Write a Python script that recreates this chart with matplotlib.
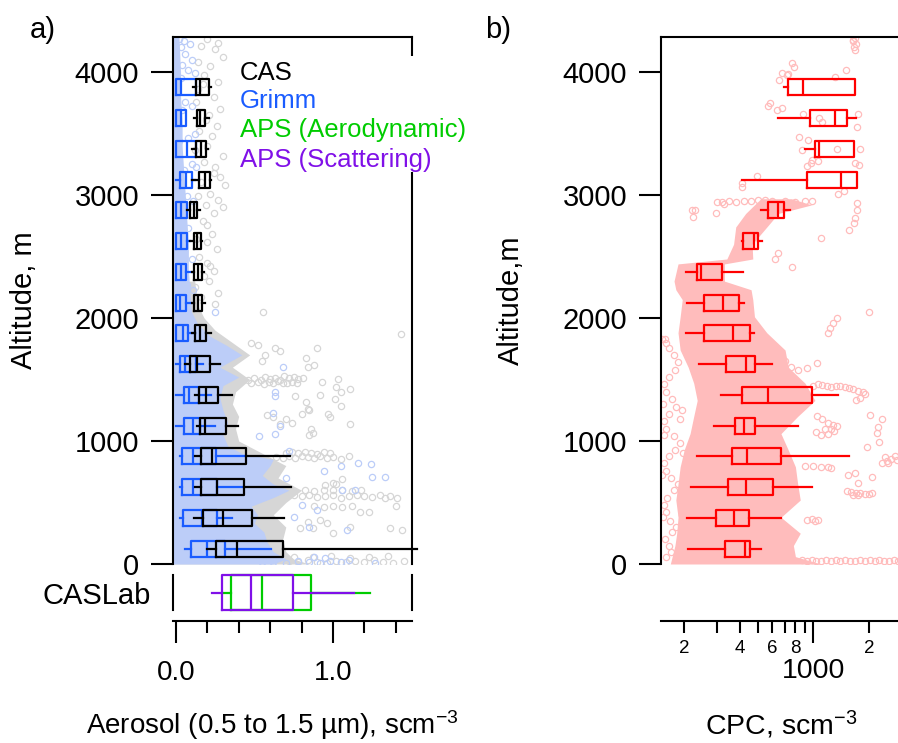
import numpy as np
import matplotlib
matplotlib.use("Agg")
import matplotlib.pyplot as plt
from matplotlib.patches import Rectangle
from matplotlib.ticker import FixedLocator, FixedFormatter

plt.rcParams['font.family'] = ['Liberation Sans', 'DejaVu Sans']
plt.rcParams['mathtext.fontset'] = 'custom'
plt.rcParams['mathtext.rm'] = 'Liberation Sans'
plt.rcParams['mathtext.default'] = 'regular'

# altitude bins (m)
alt_bins = [125, 375, 625, 875, 1125, 1375, 1625, 1875,
            2125, 2375, 2625, 2875, 3125, 3375, 3625, 3875]

# box stats per bin: whislo, q1, median, q3, whishi
cas_stats = [
    [0.200, 0.253, 0.391, 0.684, 1.533],
    [0.115, 0.174, 0.301, 0.482, 0.690],
    [0.125, 0.159, 0.265, 0.434, 0.732],
    [0.121, 0.159, 0.231, 0.444, 0.726],
    [0.132, 0.153, 0.185, 0.318, 0.397],
    [0.121, 0.149, 0.195, 0.270, 0.355],
    [0.057, 0.093, 0.132, 0.217, 0.280],
    [0.104, 0.121, 0.157, 0.195, 0.221],
    [0.106, 0.115, 0.142, 0.168, 0.185],
    [0.100, 0.115, 0.140, 0.168, 0.178],
    [0.093, 0.115, 0.136, 0.159, 0.168],
    [0.068, 0.089, 0.115, 0.136, 0.157],
    [0.106, 0.149, 0.185, 0.217, 0.221],
    [0.100, 0.127, 0.159, 0.191, 0.206],
    [0.115, 0.132, 0.157, 0.185, 0.212],
    [0.110, 0.127, 0.153, 0.212, 0.221],
]
grimm_stats = [
    [0.057, 0.096, 0.200, 0.310, 0.605],
    [0.025, 0.047, 0.164, 0.265, 0.359],
    [0.025, 0.038, 0.110, 0.265, 0.434],
    [0.025, 0.038, 0.110, 0.253, 0.444],
    [0.000, 0.051, 0.110, 0.157, 0.248],
    [0.000, 0.051, 0.085, 0.150, 0.227],
    [0.000, 0.025, 0.057, 0.127, 0.174],
    [0.000, 0.000, 0.045, 0.075, 0.121],
    [0.000, 0.000, 0.025, 0.064, 0.106],
    [0.000, 0.000, 0.030, 0.064, 0.110],
    [0.000, 0.000, 0.030, 0.068, 0.093],
    [0.000, 0.000, 0.032, 0.068, 0.068],
    [0.000, 0.025, 0.062, 0.100, 0.120],
    [0.000, 0.000, 0.068, 0.130, 0.130],
    [0.000, 0.000, 0.030, 0.064, 0.064],
    [0.000, 0.000, 0.036, 0.127, 0.127],
]
cpc_stats = [
    [210, 332, 427, 454, 519],
    [208, 296, 374, 450, 668],
    [217, 347, 432, 607, 980],
    [234, 361, 439, 666, 1561],
    [291, 377, 423, 483, 823],
    [316, 409, 571, 980, 1366],
    [240, 335, 432, 483, 600],
    [204, 256, 366, 454, 479],
    [208, 257, 323, 396, 423],
    [204, 234, 245, 319, 418],
    [409, 418, 477, 500, 525],
    [519, 566, 647, 694, 748],
    [413, 925, 1407, 1732, 1732],
    [902, 1021, 1074, 1662, 1662],
    [647, 960, 1311, 1529, 1697],
    [694, 726, 883, 1683, 1683],
]
# lab calibration (CASLab row)
aps_aero_stats = [0.300, 0.354, 0.548, 0.860, 1.236]
aps_scat_stats = [0.231, 0.297, 0.477, 0.745, 1.136]

# dense point clouds, panel a (right edge of cloud vs altitude)
blue_alt = [0, 40, 100, 180, 260, 330, 400, 470, 540, 600, 650, 720, 800, 850, 900,
            960, 1050, 1150, 1250, 1350, 1450, 1520, 1600, 1700, 1780, 1850, 1950,
            2050, 2200, 2400, 2600, 2800, 3000, 3200, 3400, 3600, 3800, 4000, 4285]
blue_hi = [0.62, 0.70, 0.62, 0.58, 0.56, 0.50, 0.52, 0.48, 0.62, 0.72, 0.62, 0.55, 0.60,
           0.62, 0.42, 0.33, 0.30, 0.33, 0.30, 0.28, 0.30, 0.40, 0.28, 0.42, 0.32, 0.22,
           0.14, 0.10, 0.09, 0.08, 0.08, 0.07, 0.06, 0.05, 0.04, 0.04, 0.03, 0.03, 0.02]
gray_alt = [0, 40, 100, 200, 300, 400, 500, 600, 700, 800, 900, 1000, 1100, 1200, 1300,
            1400, 1500, 1600, 1700, 1800, 1900, 2000, 2100, 2300]
gray_hi = [0.85, 0.75, 0.70, 0.68, 0.70, 0.62, 0.70, 0.80, 0.65, 0.70, 0.55, 0.40, 0.38,
           0.40, 0.36, 0.38, 0.47, 0.36, 0.47, 0.36, 0.25, 0.18, 0.14, 0.12]

# scattered CAS points (value, altitude)
gray_x = [0.20, 0.27, 0.25, 0.30, 0.22, 0.18, 0.27, 0.24, 0.28, 0.21, 0.26, 0.23, 0.20,
          0.30, 0.25, 0.28, 0.31, 0.22, 0.27, 0.30, 0.24, 0.20, 0.23, 0.26, 0.20, 0.24,
          0.21, 0.27, 0.25, 0.16, 0.14, 0.17, 0.13, 0.19, 0.15, 0.12, 0.18, 0.16, 0.14,
          0.19, 0.17, 0.13, 0.15, 0.22, 0.18, 0.12, 0.16, 0.20, 0.14, 0.24,
          0.556, 1.433, 0.63, 0.66, 0.90, 0.57, 0.83, 0.88, 0.84, 0.93, 1.03, 1.02, 1.05,
          1.11, 0.76, 0.83, 0.85, 0.84, 1.01, 1.05, 0.92, 0.80, 0.97, 0.98, 1.11, 0.86,
          0.87, 0.85, 0.74, 0.66, 0.62, 0.58, 0.70, 0.52, 0.48, 0.55,
          0.46, 0.50, 0.54, 0.57, 0.60, 0.63, 0.66, 0.69, 0.72, 0.75, 0.78, 0.81,
          0.48, 0.52, 0.56, 0.59, 0.62, 0.65, 0.68, 0.71, 0.74, 0.77,
          0.64, 0.68, 0.72, 0.76, 0.80, 0.84, 0.88, 0.92, 0.96, 1.00, 1.05, 1.10,
          0.70, 0.74, 0.78, 0.82, 0.86, 0.90, 0.94, 0.98,
          0.75, 0.80, 0.85, 0.90, 0.95, 1.00, 1.05, 1.10, 1.15, 1.20, 1.25, 1.30, 1.36,
          1.41, 0.82, 0.88, 0.94, 1.00, 1.06, 1.12, 1.18,
          0.88, 0.94, 1.00, 1.06, 1.12, 1.40, 1.33, 1.00, 1.06, 0.95, 1.02,
          1.36, 1.44, 1.17, 1.23, 0.92, 1.11, 1.00, 0.87, 0.79, 0.84, 0.96,
          0.72, 0.78, 0.84, 0.90, 0.96, 1.02, 1.08, 1.14, 1.20, 1.26, 1.32, 1.38, 1.45,
          0.75, 0.87, 0.99, 1.11, 1.23, 1.35]
gray_y = [4270, 4240, 4190, 4120, 4050, 3980, 3920, 3800, 3700, 3650, 3560, 3480, 3400,
          3320, 3230, 3150, 3080, 3010, 2960, 2900, 2850, 2760, 2680, 2560, 2450, 2380,
          2300, 2200, 2110, 4210, 4080, 3900, 3760, 3610, 3520, 3370, 3270, 3110, 2990,
          2920, 2790, 2640, 2500, 2420, 2340, 2250, 2170, 2620, 3860, 3180,
          2046, 1870, 1753, 1731, 1759, 1700, 1672, 1618, 1605, 1477, 1503, 1441, 1400,
          1422, 1369, 1314, 1252, 1262, 1341, 1284, 1374, 1216, 1216, 1192, 1138, 1095,
          1062, 1049, 1143, 1135, 1195, 1208, 1180, 1780, 1800, 1650,
          1500, 1510, 1495, 1520, 1505, 1515, 1500, 1525, 1510, 1520, 1505, 1515,
          1470, 1480, 1465, 1478, 1470, 1485, 1468, 1475, 1480, 1470,
          870, 860, 875, 865, 880, 870, 860, 875, 865, 870, 855, 880,
          905, 910, 900, 912, 905, 898, 910, 902,
          560, 550, 565, 545, 555, 560, 540, 550, 565, 555, 545, 560, 550,
          540, 600, 595, 605, 598, 602, 596, 600,
          470, 460, 475, 465, 470, 470, 535, 656, 690, 640, 650,
          290, 277, 425, 425, 357, 303, 250, 290, 290, 340, 330,
          25, 15, 30, 20, 12, 28, 18, 24, 14, 30, 20, 12, 22,
          60, 55, 65, 50, 58, 62]

# scattered Grimm points (value, altitude)
blue_x = [0.02, 0.05, 0.09, 0.03, 0.06, 0.10, 0.04, 0.08, 0.12, 0.03, 0.06, 0.10, 0.04,
          0.12, 0.08, 0.02, 0.10, 0.05, 0.13, 0.07, 0.11, 0.03, 0.08, 0.05, 0.10, 0.07,
          0.11,
          0.248, 0.63, 0.63, 0.62, 0.53, 0.63, 1.16, 1.25, 1.06, 0.94, 1.05, 1.24, 1.33,
          1.14, 1.09, 0.80, 0.90, 0.70, 0.75, 0.85, 0.68, 0.72, 0.66,
          0.55, 0.62, 0.70, 0.78, 0.85, 0.92, 0.98, 1.05, 1.10, 1.27, 0.88, 0.95]
blue_y = [4270, 4250, 4230, 4200, 4150, 4100, 4060, 4020, 3990, 3950, 3760, 3720, 3690,
          3500, 3460, 3440, 3250, 3200, 3230, 2990, 2950, 2760, 2730, 2500, 2480, 2270,
          2230,
          2046, 1396, 1369, 1230, 1040, 1057, 818, 708, 605, 759, 800, 813, 705,
          602, 276, 480, 440, 700, 380, 300, 1600, 920, 1120,
          15, 20, 12, 25, 18, 10, 22, 15, 30, 10, 60, 45]

# dense CPC cloud, panel b (left / right edges vs altitude)
pk_alt = [0, 60, 150, 250, 380, 520, 650, 790, 930, 1060, 1200, 1330, 1470, 1600, 1740,
          1880, 2010, 2150, 2230, 2300, 2440, 2480, 2600, 2740, 2850, 2920, 2970]
pk_lo = [168, 172, 178, 182, 185, 180, 185, 190, 200, 215, 225, 235, 225, 210, 190,
         185, 190, 195, 180, 176, 185, 340, 370, 380, 430, 480, 520]
pk_hi = [1100, 800, 780, 850, 668, 850, 823, 800, 730, 668, 823, 1021, 902, 732, 703,
         560, 480, 470, 460, 330, 330, 470, 466, 560, 646, 980, 760]

# scattered CPC points (value, altitude)
pink_x = [1000, 1060, 1120, 1180, 1250, 1320, 1400, 1480, 1560, 1650, 1750, 1850, 1900,
          1800, 1700,
          1050, 1120, 1200, 1280, 1350, 1300, 1200, 1100, 1030, 1150, 1250,
          2028, 2345, 2250, 2207, 2270, 1946,
          2770, 2443, 2550, 2345, 2830, 2650, 2500,
          1682, 2072, 1548,
          1520, 1600, 1700, 1800, 1900, 2000, 2070, 1650, 1750, 1755,
          900, 1000, 1100, 1200, 1250,
          921, 980, 1064, 1020,
          865, 920, 980, 1040, 1100, 1170, 1240, 1320, 1400, 1490, 1580, 1680, 1790,
          1900, 2020, 2150, 2280, 2430, 2580, 2740, 2880,
          1339, 1283, 1232, 1206, 2011,
          1043, 921, 830, 760, 700, 152, 158,
          219, 230, 222, 297, 300, 320, 330, 350, 380, 420, 460, 500, 550, 600, 700, 800,
          900, 980,
          764, 789, 674, 718, 732, 1503, 1311, 652, 582, 566, 633, 674, 883, 1074, 1111,
          1740, 1718, 836, 940, 865, 1339, 1790, 980, 1064, 921, 972, 1682, 1768, 497,
          413, 413, 1366, 1466, 1718, 1718, 1682, 1662, 1560, 1101, 764, 620, 641,
          1680, 1650, 1700, 1660, 1690, 1640,
          # left-hand track
          160, 170, 165, 158, 172, 180, 168, 160, 155, 162, 175, 185, 170, 160, 155, 165,
          178, 190, 175, 160, 155, 165, 180, 172, 160, 155, 165, 178, 185, 175, 165, 160,
          190, 195, 198, 200, 195, 200, 153, 156, 152, 154]
pink_y = [1450, 1460, 1455, 1445, 1440, 1450, 1445, 1440, 1430, 1420, 1410, 1400, 1380,
          1350, 1330,
          1200, 1180, 1150, 1130, 1120, 1080, 1060, 1050, 1070, 1100, 1100,
          1211, 1179, 1117, 1062, 995, 954,
          880, 872, 818, 818, 846, 850, 840,
          737, 710, 724,
          590, 585, 580, 575, 570, 568, 575, 560, 565, 656,
          800, 795, 790, 785, 780,
          358, 362, 358, 350,
          30, 25, 35, 28, 22, 32, 26, 30, 24, 34, 28, 22, 30,
          26, 32, 24, 30, 28, 22, 30, 26,
          2000, 1962, 1916, 1881, 2045,
          1636, 1590, 1577, 1600, 1650, 1826, 1830,
          2880, 2876, 2825, 2851, 2940, 2945, 2930, 2950, 2945, 2950, 2955, 2960, 2960,
          2955, 2950, 2945, 2950, 2950,
          4071, 4043, 3995, 3976, 3984, 4016, 3957, 3935, 3750, 3726, 3690, 3705, 3662,
          3630, 3594, 3656, 3556, 3471, 3450, 3363, 3374, 3376, 3288, 3274, 3234, 3261,
          3261, 3245, 3154, 3100, 3068, 3005, 3031, 2938, 2878, 2816, 2770, 2716, 2653,
          2417, 2477, 2526,
          4280, 4250, 4230, 4200, 4180, 4260,
          60, 100, 150, 200, 260, 300, 350, 420, 480, 540, 600, 650, 700, 760, 820, 880,
          930, 980, 1040, 1100, 1160, 1220, 1280, 1340, 1400, 1460, 1520, 1580, 1640,
          1700, 1760, 1800, 1180, 1250, 900, 700, 400, 200, 1300, 1050, 720, 380]

C_CAS = 'black'
C_GRIMM = '#1a5cff'
C_AERO = '#00cc00'
C_SCAT = '#8010e8'
C_CPC = '#ff0000'
C_LBLUE = '#bccdf8'
C_GRAY = '#d6d6d6'
C_PINK = '#ffbcbc'

W, H = 898, 743


def fx(px):
    return px / W


def fy(py):
    return 1 - py / H


def boxes(ax, stats, pos, color, width, z):
    st = [dict(whislo=s[0], q1=s[1], med=s[2], q3=s[3], whishi=s[4], fliers=[]) for s in stats]
    art = ax.bxp(st, positions=pos, widths=width, orientation='horizontal',
                 showcaps=False, showfliers=False, manage_ticks=False,
                 boxprops=dict(color=color, lw=1.6),
                 whiskerprops=dict(color=color, lw=1.6),
                 medianprops=dict(color=color, lw=1.6), zorder=z)
    for k in art:
        for a in art[k]:
            a.set_clip_on(False)


fig = plt.figure(figsize=(W / 100, H / 100), dpi=100)
ax1 = fig.add_axes([fx(173), fy(564), fx(412) - fx(173), fy(37) - fy(564)])
axc = fig.add_axes([fx(173), fy(610), fx(412) - fx(173), fy(575) - fy(610)])
ax2 = fig.add_axes([fx(661), fy(564), fx(900) - fx(661), fy(37) - fy(564)])

# ---- panel a
ax1.fill_betweenx(gray_alt, -0.02, gray_hi, color=C_GRAY, lw=0, zorder=1)
ax1.plot(gray_x, gray_y, 'o', mfc='none', mec=C_GRAY, ms=4.5, mew=0.9, zorder=1.2)
ax1.fill_betweenx(blue_alt, -0.02, blue_hi, color=C_LBLUE, lw=0, zorder=1.4)
ax1.plot(blue_x, blue_y, 'o', mfc='none', mec=C_LBLUE, ms=4.5, mew=0.9, zorder=1.5)
boxes(ax1, grimm_stats, alt_bins, C_GRIMM, 130, 3)
boxes(ax1, cas_stats, alt_bins, C_CAS, 130, 3.2)

ax1.set_xlim(-0.018, 1.503)
ax1.set_ylim(0, 4285)
ax1.spines['bottom'].set_visible(False)
for s in ['left', 'top', 'right']:
    ax1.spines[s].set_linewidth(1.5)
ax1.tick_params(axis='x', bottom=False, labelbottom=False)
ax1.set_yticks([0, 1000, 2000, 3000, 4000])
ax1.tick_params(axis='y', length=15.8, width=1.5, pad=8.6, labelsize=21)

# legend with white backing
ax1.add_patch(Rectangle((fx(236), fy(172)), fx(470) - fx(236), fy(56) - fy(172),
                        transform=fig.transFigure, facecolor='white', edgecolor='none',
                        zorder=4, clip_on=False))
leg = [('CAS', C_CAS, 80), ('Grimm', C_GRIMM, 108.5),
       ('APS (Aerodynamic)', C_AERO, 137.5), ('APS (Scattering)', C_SCAT, 166.5)]
for txt, col, base in leg:
    fig.text(fx(240), fy(base), txt, color=col, fontsize=18.5, ha='left', va='baseline', zorder=5)

# CASLab row
boxes(axc, [aps_aero_stats], [0], C_AERO, 1.0, 3)
boxes(axc, [aps_scat_stats], [0], C_SCAT, 1.0, 3.2)
axc.set_xlim(-0.018, 1.503)
axc.set_ylim(-0.5, 0.5)
axc.spines['top'].set_visible(False)
for s in ['left', 'right', 'bottom']:
    axc.spines[s].set_linewidth(1.5)
axc.spines['bottom'].set_position(('outward', 7.9))
axc.set_yticks([0])
axc.set_yticklabels(['CASLab'])
axc.tick_params(axis='y', length=0, pad=16, labelsize=21)
axc.xaxis.set_major_locator(FixedLocator([0.0, 1.0]))
axc.xaxis.set_major_formatter(FixedFormatter(['0.0', '1.0']))
axc.xaxis.set_minor_locator(FixedLocator([0.2, 0.4, 0.6, 0.8, 1.2, 1.4]))
axc.tick_params(axis='x', which='major', length=15.8, width=1.5, pad=12, labelsize=20)
axc.tick_params(axis='x', which='minor', length=8.6, width=1.5)

# ---- panel b
ax2.fill_betweenx(pk_alt, pk_lo, pk_hi, color=C_PINK, lw=0, zorder=1)
ax2.plot(pink_x, pink_y, 'o', mfc='none', mec=C_PINK, ms=4.5, mew=0.9, zorder=1.5)
boxes(ax2, cpc_stats, alt_bins, C_CPC, 130, 3)

ax2.set_xscale('log')
ax2.set_xlim(149.6, 2949)
ax2.set_ylim(0, 4285)
ax2.spines['right'].set_visible(False)
for s in ['left', 'top', 'bottom']:
    ax2.spines[s].set_linewidth(1.5)
ax2.spines['bottom'].set_position(('outward', 41))
ax2.set_yticks([0, 1000, 2000, 3000, 4000])
ax2.tick_params(axis='y', length=15.8, width=1.5, pad=8.6, labelsize=21)
ax2.xaxis.set_major_locator(FixedLocator([1000]))
ax2.xaxis.set_major_formatter(FixedFormatter(['1000']))
ax2.xaxis.set_minor_locator(FixedLocator([200, 300, 400, 500, 600, 700, 800, 900, 2000]))
ax2.xaxis.set_minor_formatter(FixedFormatter(['2', '', '4', '', '6', '', '8', '', '2']))
ax2.tick_params(axis='x', which='major', length=15.8, width=1.5, pad=11, labelsize=20.5)
ax2.tick_params(axis='x', which='minor', length=8.6, width=1.5, pad=5, labelsize=13.5)

# labels
fig.text(fx(24), fy(300), 'Altitude, m', rotation=90, ha='center', va='center', fontsize=21)
fig.text(fx(511), fy(300), 'Altitude,m', rotation=90, ha='center', va='center', fontsize=21)
fig.text(fx(272), fy(725), r'Aerosol (0.5 to 1.5 µm), scm$^{-3}$', ha='center', va='center', fontsize=20)
fig.text(fx(781), fy(725), r'CPC, scm$^{-3}$', ha='center', va='center', fontsize=20.5)
fig.text(fx(30), fy(30), 'a)', ha='left', va='center', fontsize=21)
fig.text(fx(485), fy(30), 'b)', ha='left', va='center', fontsize=21)

fig.savefig('out.png', dpi=100)
